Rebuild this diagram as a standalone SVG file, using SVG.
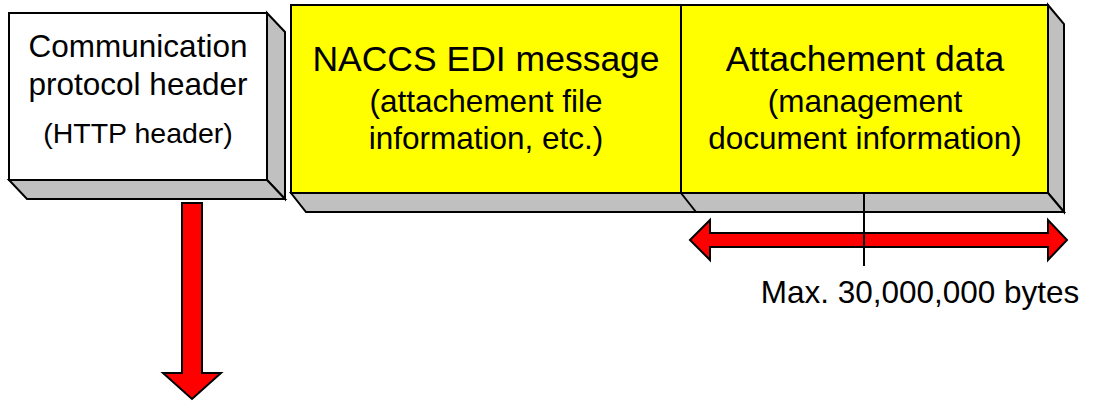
<svg xmlns="http://www.w3.org/2000/svg" width="1093" height="401" viewBox="0 0 1093 401">
<style>
.face{stroke:#000;stroke-width:2;stroke-linejoin:miter}
.side{fill:#c0c0c0;stroke:#000;stroke-width:2}
.t{font-family:"Liberation Sans",Arial,sans-serif;fill:#000;text-anchor:middle}
.big{font-size:35.5px}
.mid{font-size:31.5px}
.sm{font-size:28.5px}
.arrow{fill:#ff0000;stroke:#000;stroke-width:2;stroke-linejoin:miter}
</style>
<rect width="1093" height="401" fill="#fff"/>
<g id="http-header">
<polygon class="side" points="267,13 285,32 285,199 267,180"/>
<polygon class="side" points="9,180 267,180 285,199 27,199"/>
<rect class="face" x="9" y="13" width="258" height="167" fill="#fff"/>
<text class="t mid" x="138" y="57">Communication</text>
<text class="t mid" x="138" y="95">protocol header</text>
<text class="t sm" x="138" y="143">(HTTP header)</text>
</g>
<g id="message-block">
<polygon class="side" points="1048,5 1064,24 1064,212 1048,193"/>
<polygon class="side" points="291,193 1048,193 1064,212 306,212"/>
<line x1="681" y1="193" x2="696" y2="212" stroke="#000" stroke-width="2"/>
<rect class="face" x="291" y="5" width="757" height="188" fill="#ffff00"/>
<line x1="681" y1="5" x2="681" y2="193" stroke="#000" stroke-width="2"/>
</g>
<g id="naccs-edi-message">
<text class="t big" x="486" y="71">NACCS EDI message</text>
<text class="t mid" x="486" y="112">(attachement file</text>
<text class="t mid" x="486" y="149">information, etc.)</text>
</g>
<g id="attachement-data">
<text class="t big" x="865" y="71">Attachement data</text>
<text class="t mid" x="865" y="112">(management</text>
<text class="t mid" x="865" y="149">document information)</text>
</g>
<g id="connectors">
<polygon class="arrow" points="182,203 202,203 202,373 221,373 192,399 163,373 182,373"/>
<polygon class="arrow" points="690,240 710,220 710,233 1048,233 1048,220 1067,240 1048,260 1048,247 710,247 710,260"/>
<line x1="864" y1="193" x2="864" y2="266" stroke="#000" stroke-width="2"/>
</g>
<g id="size-label">
<text class="t mid" x="920" y="303">Max. 30,000,000 bytes</text>
</g>
</svg>
